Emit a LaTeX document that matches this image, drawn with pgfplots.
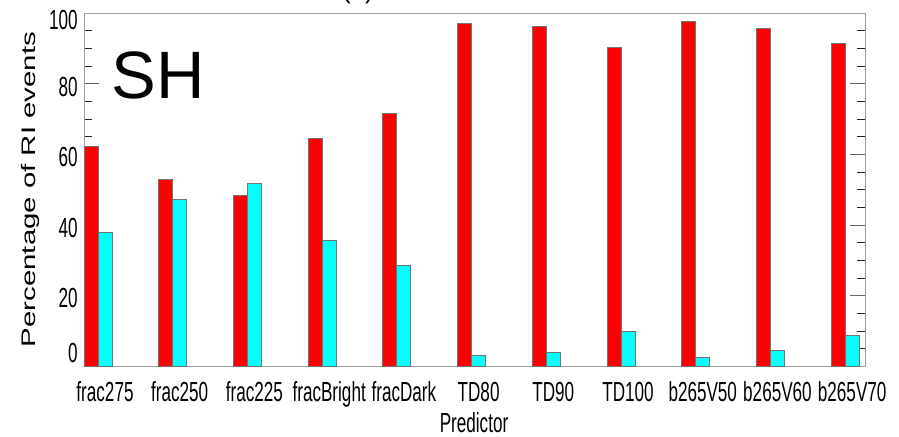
\documentclass[border=0pt]{standalone}
\usepackage{fontspec}
\setmainfont{Liberation Sans}
\newfontfamily\narrowfont[FakeStretch=0.62]{Liberation Sans}
\usepackage{pgfplots}
\pgfplotsset{compat=1.18}
\usepackage{pgfplotstable}

% Share of RI events per predictor: red and cyan parts sum to 100
\pgfplotstableread{
idx red cyan
0 62.1 37.9
1 52.9 47.1
2 48.3 51.7
3 64.5 35.5
4 71.4 28.6
5 97.0 3.0
6 96.2 3.8
7 90.1 9.9
8 97.7 2.3
9 95.7 4.3
10 91.4 8.6
}\ratios

\definecolor{barred}{RGB}{255,0,0}
\definecolor{barcyan}{RGB}{0,255,255}

\begin{document}
\begin{tikzpicture}[x=1pt,y=1pt]
\useasboundingbox (0,0) rectangle (449.5,218);
\begin{axis}[
  at={(42pt,35pt)}, anchor=south west,
  scale only axis, width=390.5pt, height=176.5pt,
  xmin=-0.1875, xmax=10.265, ymin=0, ymax=100,
  axis line style={gray!75},
  tick align=inside,
  major tick length=7.5pt, minor tick length=4pt,
  major tick style={gray!80!black},
  minor tick style={black!85},
  ytick={0,20,40,60,80,100},
  yticklabels={\raisebox{8pt}[\height][\depth]{0},20,40,60,80,\raisebox{-2pt}[\height][\depth]{100}},
  minor y tick num=3,
  ytick pos=both,
  xtick={0.0937,1.0937,2.0937,3.0937,4.0937,5.0937,6.0937,7.0937,8.0937,9.0937,10.0937},
  xticklabels={frac275,frac250,frac225,fracBright,fracDark,TD80,TD90,TD100,b265V50,b265V60,b265V70},
  minor xtick={-0.0937,0.0937,0.9063,1.0937,1.9063,2.0937,2.9063,3.0937,3.9063,4.0937,4.9063,5.0937,5.9063,6.0937,6.9063,7.0937,7.9063,8.0937,8.9063,9.0937,9.9063,10.0937},
  major x tick style={draw=none},
  xtick pos=left,
  /pgf/number format/assume math mode=true,
  ticklabel style={font=\narrowfont\fontsize{13.8}{14}\selectfont},
  xticklabel style={anchor=base, yshift=-17.5pt},
  yticklabel style={anchor=east, inner sep=0pt, xshift=-3pt, yshift=-1.5pt},
]
\addplot[ybar, bar width=7pt, bar shift=-3.5pt, fill=barred, draw=black!55, line width=0.5pt]
  table[x=idx, y=red] {\ratios};
\addplot[ybar, bar width=7pt, bar shift=3.5pt, fill=barcyan, draw=black!55, line width=0.5pt]
  table[x=idx, y=cyan] {\ratios};
\end{axis}

% panel tag, letters and labels
\node[anchor=base, font=\fontsize{13}{14}\selectfont] at (179,218.6) {(b)};
\node[anchor=base west, inner sep=0pt, font=\fontsize{33.5}{36}\selectfont] at (55.5,169) {SH};
\node[anchor=base, rotate=90, inner sep=0pt, font=\fontsize{9.8}{11}\selectfont] at (17.5,123.25)
  {\scalebox{1.5}[1]{Percentage of RI events}};
\node[anchor=base, inner sep=0pt, font=\narrowfont\fontsize{13.8}{14}\selectfont] at (237,1.6) {Predictor};
\end{tikzpicture}
\end{document}
